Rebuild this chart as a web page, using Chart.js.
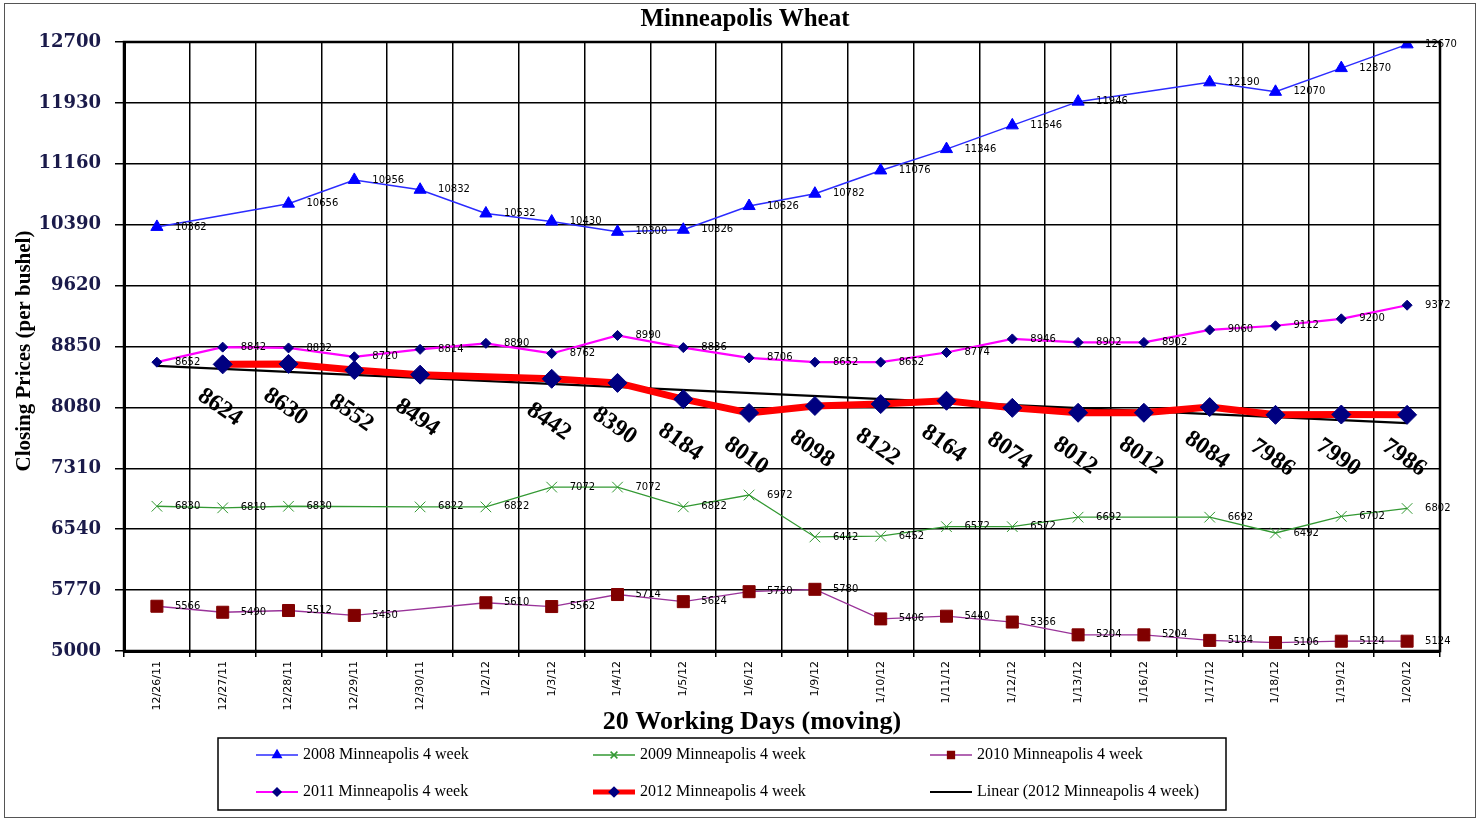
<!DOCTYPE html>
<html>
<head>
<meta charset="utf-8">
<title>Minneapolis Wheat</title>
<script src="https://cdn.jsdelivr.net/npm/chart.js@4.4.1/dist/chart.umd.min.js"></script>
<style>
  html, body { margin: 0; padding: 0; background: #fff; }
  canvas { display: block; }
</style>
</head>
<body>
<canvas id="chart" width="1482" height="819"></canvas>
<script>
// ---------------- DATA ----------------
const days = ["12/26/11", "12/27/11", "12/28/11", "12/29/11", "12/30/11", "1/2/12", "1/3/12", "1/4/12", "1/5/12", "1/6/12",
  "1/9/12", "1/10/12", "1/11/12", "1/12/12", "1/13/12", "1/16/12", "1/17/12", "1/18/12", "1/19/12", "1/20/12"];

const yTicks = [5000, 5770, 6540, 7310, 8080, 8850, 9620, 10390, 11160, 11930, 12700];

const wheat2008 = [10362, null, 10656, 10956, 10832, 10532, 10430, 10300, 10326, 10626,
  10782, 11076, 11346, 11646, 11946, null, 12190, 12070, 12370, 12670];
const wheat2009 = [6830, 6810, 6830, null, 6822, 6822, 7072, 7072, 6822, 6972,
  6442, 6452, 6572, 6572, 6692, null, 6692, 6492, 6702, 6802];
const wheat2010 = [5566, 5490, 5512, 5450, null, 5610, 5562, 5714, 5624, 5750,
  5780, 5406, 5440, 5366, 5204, 5204, 5134, 5106, 5124, 5124];
const wheat2011 = [8652, 8842, 8832, 8720, 8814, 8890, 8762, 8990, 8836, 8706,
  8652, 8652, 8774, 8946, 8902, 8902, 9060, 9112, 9200, 9372];
const wheat2012 = [null, 8624, 8630, 8552, 8494, null, 8442, 8390, 8184, 8010,
  8098, 8122, 8164, 8074, 8012, 8012, 8084, 7986, 7990, 7986];
// Excel linear trendline, only its two ends
const trend2012 = [8606, null, null, null, null, null, null, null, null, null,
  null, null, null, null, null, null, null, null, null, 7882];

const seriesNames = ["2008 Minneapolis 4 week", "2009 Minneapolis 4 week", "2010 Minneapolis 4 week",
  "2011 Minneapolis 4 week", "2012 Minneapolis 4 week", "Linear (2012 Minneapolis 4 week)"];

// ---------------- PLUGINS ----------------
const pointLabels = {
  id: "pointLabels",
  afterDatasetsDraw(chart) {
    const ctx = chart.ctx;
    ctx.save();
    ctx.fillStyle = "#000";
    chart.data.datasets.forEach((ds, i) => {
      if (!ds.labelStyle) return;
      const meta = chart.getDatasetMeta(i);
      meta.data.forEach((pt, j) => {
        const v = ds.data[j];
        if (v === null) return;
        if (ds.labelStyle === "small") {
          ctx.font = '10px "DejaVu Sans"';
          ctx.textAlign = "left";
          ctx.textBaseline = "middle";
          ctx.fillText(String(v), pt.x + 18, pt.y);
        } else {
          ctx.save();
          ctx.font = 'bold 24px "Liberation Serif"';
          ctx.textAlign = "center";
          ctx.textBaseline = "middle";
          ctx.translate(pt.x - 3, pt.y + 43);
          ctx.rotate((35 * Math.PI) / 180);
          ctx.fillText(String(v), 0, 0);
          ctx.restore();
        }
      });
    });
    ctx.restore();
  },
};

const frameAndText = {
  id: "frameAndText",
  beforeDraw(chart) {
    const ctx = chart.ctx;
    ctx.save();
    ctx.fillStyle = "#fff";
    ctx.fillRect(0, 0, chart.width, chart.height);
    ctx.restore();
  },
  afterDraw(chart) {
    const ctx = chart.ctx;
    const a = chart.chartArea;
    ctx.save();

    // plot box
    ctx.strokeStyle = "#000";
    ctx.lineWidth = 2.5;
    ctx.strokeRect(a.left, a.top, a.right - a.left, a.bottom - a.top);

    // outer frame
    ctx.strokeStyle = "#555";
    ctx.lineWidth = 1;
    ctx.strokeRect(4.5, 3.5, 1471, 814);

    // titles
    ctx.fillStyle = "#000";
    ctx.textAlign = "center";
    ctx.textBaseline = "middle";
    ctx.font = 'bold 25px "Liberation Serif"';
    ctx.fillText("Minneapolis Wheat", 745, 20);
    ctx.font = 'bold 26px "Liberation Serif"';
    ctx.fillText("20 Working Days (moving)", 752, 722);
    ctx.save();
    ctx.translate(25, 351);
    ctx.rotate(-Math.PI / 2);
    ctx.font = 'bold 21px "Liberation Serif"';
    ctx.fillText("Closing Prices (per bushel)", 0, 0);
    ctx.restore();

    // legend box
    ctx.strokeStyle = "#000";
    ctx.lineWidth = 1.5;
    ctx.strokeRect(218, 738, 1008, 72);
    const colX = [256, 593, 930];
    const rowY = [755, 792];
    chart.data.datasets.forEach((ds, i) => {
      const x = colX[i % 3];
      const y = rowY[Math.floor(i / 3)];
      ctx.strokeStyle = ds.borderColor;
      ctx.lineWidth = Math.min(ds.borderWidth, 5);
      ctx.beginPath();
      ctx.moveTo(x, y);
      ctx.lineTo(x + 42, y);
      ctx.stroke();
      if (ds.pointRadius > 0) {
        ctx.fillStyle = ds.pointBackgroundColor;
        ctx.strokeStyle = ds.pointBorderColor;
        ctx.lineWidth = 1.5;
        Chart.helpers.drawPoint(ctx, {
          pointStyle: ds.pointStyle,
          radius: Math.min(ds.pointRadius, 6) * 0.8,
          rotation: 0,
          borderWidth: 1.5,
        }, x + 21, y);
      }
      ctx.fillStyle = "#000";
      ctx.textAlign = "left";
      ctx.textBaseline = "middle";
      ctx.font = '16px "Liberation Serif"';
      ctx.fillText(seriesNames[i], x + 47, y);
    });
    ctx.restore();
  },
};

// ---------------- CHART ----------------
function series(label, data, lineColor, width, style, radius, markColor, labelStyle) {
  return {
    label,
    data,
    borderColor: lineColor,
    borderWidth: width,
    pointStyle: style,
    pointRadius: radius,
    pointBackgroundColor: markColor,
    pointBorderColor: markColor,
    pointBorderWidth: 1,
    spanGaps: true,
    tension: 0,
    fill: false,
    labelStyle,
  };
}

new Chart(document.getElementById("chart"), {
  type: "line",
  data: {
    labels: days,
    datasets: [
      series(seriesNames[0], wheat2008, "#2b2bff", 1.5, "triangle", 7, "#0000ff", "small"),
      series(seriesNames[1], wheat2009, "#339933", 1.3, "crossRot", 7.5, "#339933", "small"),
      series(seriesNames[2], wheat2010, "#993399", 1.3, "rect", 8.5, "#800000", "small"),
      series(seriesNames[3], wheat2011, "#ff00ff", 2.2, "rectRot", 5, "#000080", "small"),
      series(seriesNames[4], wheat2012, "#ff0000", 7, "rectRot", 9.5, "#000080", "big"),
      series(seriesNames[5], trend2012, "#000000", 2.2, "circle", 0, "#000000", null),
    ],
  },
  options: {
    responsive: false,
    animation: false,
    layout: { padding: { left: 0, right: 42, top: 42, bottom: 85 } },
    plugins: {
      legend: { display: false },
      title: { display: false },
      tooltip: { enabled: false },
    },
    scales: {
      x: {
        offset: true,
        grid: { offset: true, color: "#000", lineWidth: 1.5, tickLength: 6 },
        border: { color: "#000", width: 3 },
        ticks: {
          autoSkip: false,
          minRotation: 90,
          maxRotation: 90,
          padding: 4,
          color: "#000",
          font: { family: "DejaVu Sans", size: 11 },
        },
        afterFit: (s) => { s.height = 83; },
      },
      y: {
        min: 5000,
        max: 12700,
        afterBuildTicks: (s) => { s.ticks = yTicks.map((v) => ({ value: v })); },
        grid: { color: "#000", lineWidth: 1.5, tickLength: 9 },
        border: { color: "#000", width: 3 },
        ticks: {
          padding: 14,
          color: "#1a1a4a",
          font: { family: "DejaVu Serif", size: 18, weight: "bold" },
          callback: (v) => String(v),
        },
        afterFit: (s) => { s.width = 124; },
      },
    },
  },
  plugins: [pointLabels, frameAndText],
});
</script>
</body>
</html>
